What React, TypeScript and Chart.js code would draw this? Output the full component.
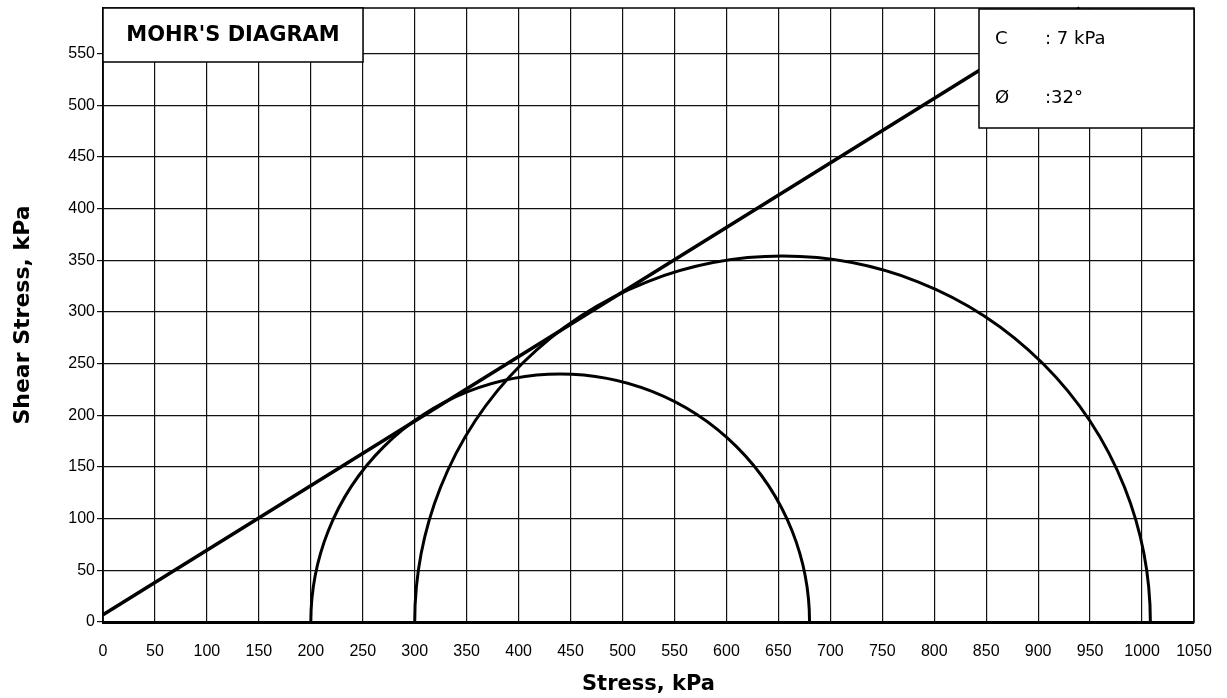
import React, { useEffect, useRef } from "react";
import { Chart, registerables } from "chart.js";

Chart.register(...registerables);

// ---- data ----
const xTickValues = [0, 50, 100, 150, 200, 250, 300, 350, 400, 450, 500, 550, 600, 650, 700, 750, 800, 850, 900, 950, 1000, 1050];
const yTickValues = [0, 50, 100, 150, 200, 250, 300, 350, 400, 450, 500, 550];
const xMin = 0;
const xMax = 1050;
const yMin = 0;
const yMax = 594;

// failure envelope (c = 7 kPa, phi = 32 deg), read at its two ends
const envelopeStress = [0, 940];
const envelopeShear = [7, 594];

// Mohr circles: minor and major principal stresses
const circleMinor = [200, 300];
const circleMajor = [680, 1008];

const titleText = "MOHR'S DIAGRAM";
const legendLabels = ["C", "Ø"];
const legendValues = [": 7 kPa", ":32°"];
const xAxisTitle = "Stress, kPa";
const yAxisTitle = "Shear Stress, kPa";

const mohrPlugin = {
  id: "mohrExtras",
  beforeDatasetsDraw(chart: any) {
    const { ctx, chartArea } = chart;
    ctx.save();
    ctx.strokeStyle = "#000";
    ctx.lineWidth = 1.5;
    ctx.strokeRect(chartArea.left, chartArea.top, chartArea.right - chartArea.left, chartArea.bottom - chartArea.top);
    ctx.restore();
  },
  afterDatasetsDraw(chart: any) {
    const { ctx, chartArea } = chart;
    const xs = chart.scales.x;
    const ys = chart.scales.y;
    ctx.save();
    ctx.beginPath();
    ctx.rect(chartArea.left, chartArea.top - 4, chartArea.right - chartArea.left, chartArea.bottom - chartArea.top + 4);
    ctx.clip();
    ctx.strokeStyle = "#000";
    ctx.lineWidth = 3;
    for (let i = 0; i < circleMinor.length; i++) {
      const s3 = circleMinor[i];
      const s1 = circleMajor[i];
      const center = (s1 + s3) / 2;
      const radius = (s1 - s3) / 2;
      const cx = xs.getPixelForValue(center);
      const cy = ys.getPixelForValue(0);
      const rx = xs.getPixelForValue(s1) - cx;
      const ry = cy - ys.getPixelForValue(radius);
      ctx.beginPath();
      ctx.ellipse(cx, cy, rx, ry, 0, Math.PI, 2 * Math.PI);
      ctx.stroke();
    }
    ctx.restore();
  },
  afterDraw(chart: any) {
    const { ctx, chartArea } = chart;
    ctx.save();
    ctx.strokeStyle = "#000";
    ctx.lineWidth = 1.5;
    ctx.fillStyle = "#fff";
    // title box (top-left)
    const tx = chartArea.left;
    const ty = chartArea.top;
    const tw = 260;
    const th = 54;
    ctx.fillRect(tx, ty, tw, th);
    ctx.strokeRect(tx, ty, tw, th);
    ctx.fillStyle = "#000";
    ctx.font = "bold 21px 'DejaVu Sans'";
    ctx.textAlign = "center";
    ctx.textBaseline = "middle";
    ctx.fillText(titleText, tx + tw / 2, ty + th / 2 + 1);

    // legend box (top-right)
    const lw = 215;
    const lh = 119;
    const lx = chartArea.right - lw;
    const ly = chartArea.top + 1;
    ctx.fillStyle = "#fff";
    ctx.fillRect(lx, ly, lw, lh);
    ctx.strokeRect(lx, ly, lw, lh);
    ctx.fillStyle = "#000";
    ctx.font = "18px 'DejaVu Sans'";
    ctx.textAlign = "left";
    for (let i = 0; i < legendLabels.length; i++) {
      const yy = ly + 30 + i * 59;
      ctx.fillText(legendLabels[i], lx + 16, yy);
      ctx.fillText(legendValues[i], lx + 66, yy);
    }
    ctx.restore();
  },
};

export default function App() {
  const canvasRef = useRef<HTMLCanvasElement | null>(null);

  useEffect(() => {
    if (!canvasRef.current) return;
    const points = envelopeStress.map((x, i) => ({ x, y: envelopeShear[i] }));
    const chart = new Chart(canvasRef.current, {
      type: "line",
      data: {
        datasets: [
          {
            label: "Envelope",
            data: points,
            borderColor: "#000",
            borderWidth: 3.5,
            pointRadius: 0,
            fill: false,
            tension: 0,
            clip: 5,
          } as any,
        ],
      },
      options: {
        animation: false,
        responsive: false,
        layout: { padding: { left: 0, top: 8, right: 33, bottom: 0 } },
        plugins: {
          legend: { display: false },
          tooltip: { enabled: false },
          title: { display: false },
        },
        scales: {
          x: {
            type: "linear",
            min: xMin,
            max: xMax,
            afterBuildTicks: (scale: any) => {
              scale.ticks = xTickValues.map((v) => ({ value: v }));
            },
            afterFit: (scale: any) => {
              scale.height = 76;
              scale.paddingLeft = 0;
              scale.paddingRight = 0;
            },
            ticks: {
              color: "#000",
              font: { family: "'Liberation Sans'", size: 16 },
              padding: 20,
              maxRotation: 0,
              autoSkip: false,
              callback: (v: any) => String(v),
            },
            grid: {
              color: "#111",
              lineWidth: 1.2,
              drawTicks: false,
            },
            border: { color: "#000", width: 3 },
            title: {
              display: true,
              text: xAxisTitle,
              color: "#000",
              font: { family: "'DejaVu Sans'", size: 21, weight: "bold", lineHeight: 1 },
              padding: { top: 0, bottom: 3 },
            },
          },
          y: {
            type: "linear",
            min: yMin,
            max: yMax,
            afterBuildTicks: (scale: any) => {
              scale.ticks = yTickValues.map((v) => ({ value: v }));
            },
            afterFit: (scale: any) => {
              scale.width = 103;
              scale.paddingTop = 0;
              scale.paddingBottom = 0;
            },
            ticks: {
              color: "#000",
              font: { family: "'Liberation Sans'", size: 16 },
              padding: 2,
              autoSkip: false,
              callback: (v: any) => String(v),
            },
            grid: {
              color: "#111",
              lineWidth: 1.2,
              drawTicks: true,
              tickLength: 6,
            },
            border: { color: "#000", width: 1.5 },
            title: {
              display: true,
              text: yAxisTitle,
              color: "#000",
              font: { family: "'DejaVu Sans'", size: 22, weight: "bold", lineHeight: 1 },
              padding: { top: 12, bottom: 0 },
            },
          },
        },
      },
      plugins: [mohrPlugin],
    });
    return () => chart.destroy();
  }, []);

  return (
    <div style={{ position: "fixed", left: 0, top: 0, width: 1227, height: 698, background: "#fff" }}>
      <canvas ref={canvasRef} width={1227} height={698} style={{ display: "block" }} />
    </div>
  );
}
